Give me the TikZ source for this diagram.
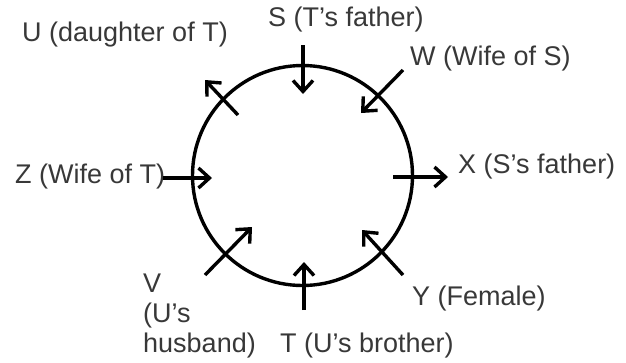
\documentclass[tikz,border=0pt]{standalone}
\usepackage{fontspec}
\setmainfont{Liberation Sans}
\usepackage{tikz}
\usetikzlibrary{arrows.meta}

\begin{document}
\begin{tikzpicture}[
  x=1pt, y=-1pt,
  every node/.style={font=\fontsize{27}{30}\selectfont, text=black!78, inner sep=0pt},
  ring/.style ={draw, line width=3.4pt},
  rel/.style  ={-{Straight Barb[length=11pt,width=20pt]}, line width=3.4pt},
  lbl/.style  ={anchor=base west}
]
\path[use as bounding box] (0,0) rectangle (626,362);

% the circle
\coordinate (c) at (302.5,175.5);
\draw[ring] (c) circle[radius=110];

% labels
\node[lbl] (u) at (22,41)   {U (daughter of T)};
\node[lbl] (s) at (268,26)  {S (T's father)};
\node[lbl] (w) at (410,65)  {W (Wife of S)};
\node[lbl] (z) at (15,183)  {Z (Wife of T)};
\node[lbl] (x) at (458,173) {X (S's father)};
\node[lbl] (y) at (412,305) {Y (Female)};
\node[lbl] (t) at (280,352) {T (U's brother)};
\node[lbl, align=left] (v) at (143,352) {V\\(U's\\husband)};

% arrow ends
\coordinate (s-tail) at (303,45);  \coordinate (s-head) at (303,94);
\coordinate (w-tail) at (403,70);  \coordinate (w-head) at (361,113);
\coordinate (x-tail) at (393,177); \coordinate (x-head) at (448,177);
\coordinate (y-tail) at (403,275); \coordinate (y-head) at (362,230);
\coordinate (t-tail) at (304,310); \coordinate (t-head) at (304,262);
\coordinate (v-tail) at (205,275); \coordinate (v-head) at (252,227);
\coordinate (z-tail) at (163,178); \coordinate (z-head) at (212,178);
\coordinate (u-tail) at (238,115); \coordinate (u-head) at (205,80);

\draw[rel] (s-tail) -- (s-head);
\draw[rel] (w-tail) -- (w-head);
\draw[rel] (x-tail) -- (x-head);
\draw[rel] (y-tail) -- (y-head);
\draw[rel] (t-tail) -- (t-head);
\draw[rel] (v-tail) -- (v-head);
\draw[rel] (z-tail) -- (z-head);
\draw[rel] (u-tail) -- (u-head);
\end{tikzpicture}
\end{document}
